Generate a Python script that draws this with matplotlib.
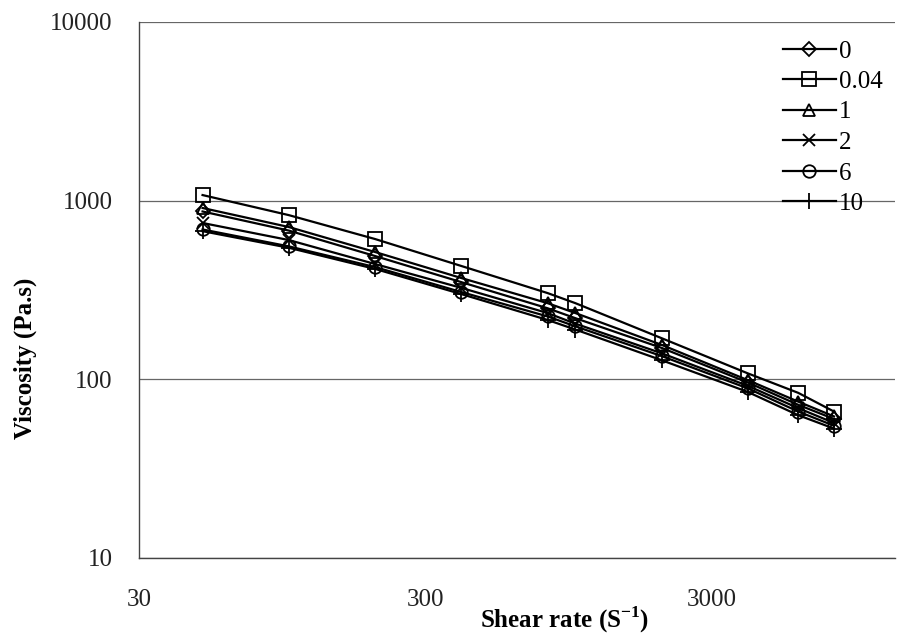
import matplotlib.pyplot as plt

# shear rate (1/s) and viscosity (Pa.s) for each additive level
shear_rate = [50, 100, 200, 400, 800, 1000, 2000, 4000, 6000, 8000]
visc_0 = [870, 680, 490, 350, 250, 220, 150, 96, 72, 60]
visc_004 = [1075, 830, 610, 431, 304, 267, 170, 108, 84, 66]
visc_1 = [910, 712, 516, 369, 267, 235, 156, 99, 75, 62]
visc_2 = [750, 602, 442, 325, 235, 205, 140, 92, 69, 57]
visc_6 = [690, 555, 425, 308, 225, 198, 135, 89, 66, 55]
visc_10 = [675, 545, 415, 300, 215, 190, 128, 85, 63, 53]

labels = ['0', '0.04', '1', '2', '6', '10']
markers = ['D', 's', '^', 'x', 'o', '+']
sizes = [7, 10, 8, 9, 9, 12]
series = [visc_0, visc_004, visc_1, visc_2, visc_6, visc_10]

plt.rcParams['font.family'] = ['Liberation Serif', 'DejaVu Serif']

W, H = 898, 637
fig = plt.figure(figsize=(W / 100, H / 100), dpi=100)
ax = fig.add_axes([139 / W, 1 - 558 / H, (895 - 139) / W, (558 - 22) / H])

for y, lab, m, ms in zip(series, labels, markers, sizes):
    ax.plot(shear_rate, y, color='black', lw=1.6, marker=m, ms=ms,
            mfc='none', mec='black', mew=1.3, label=lab)

ax.set_xscale('log')
ax.set_yscale('log')
ax.set_xlim(30, 30 * 10 ** (756 / 286.5))
ax.set_ylim(10, 10000)

ax.set_xticks([30, 300, 3000])
ax.set_xticklabels(['30', '300', '3000'])
ax.set_yticks([10, 100, 1000, 10000])
ax.set_yticklabels(['10', '100', '1000', '10000'])
ax.minorticks_off()
ax.tick_params(axis='both', length=0, labelsize=18, colors='#222222')
ax.tick_params(axis='x', pad=22)
ax.tick_params(axis='y', pad=19)

ax.yaxis.grid(True, color='#666666', lw=0.9)
for side in ['top', 'right']:
    ax.spines[side].set_visible(False)
for side in ['left', 'bottom']:
    ax.spines[side].set_color('#444444')
    ax.spines[side].set_linewidth(1.0)

fig.text(565 / W, 1 - 628 / H, 'Shear rate (S$^{\\mathregular{-1}}$)', fontsize=18,
         fontweight='bold', ha='center', va='baseline')
fig.text(25 / W, 1 - 358 / H, 'Viscosity (Pa.s)', fontsize=18, fontweight='bold',
         rotation=90, ha='center', va='center')

ax.legend(loc='upper left', bbox_to_anchor=(783 / W, 1 - 40 / H),
          bbox_transform=fig.transFigure, frameon=False, fontsize=18,
          handlelength=2.1, handletextpad=0.12, labelspacing=0.32,
          borderpad=0, borderaxespad=0)

fig.savefig('out.png', dpi=100)
